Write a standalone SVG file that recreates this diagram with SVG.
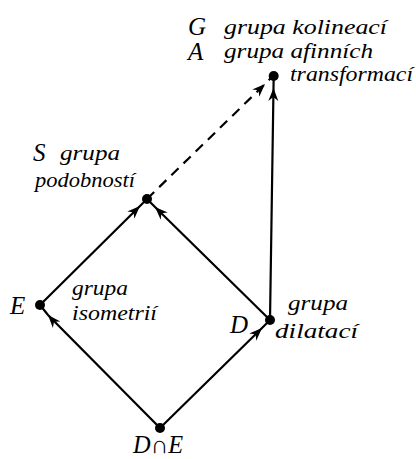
<svg xmlns="http://www.w3.org/2000/svg" width="416" height="459" viewBox="0 0 416 459">
<style>
.t{font-family:"Liberation Serif","DejaVu Serif",serif;font-style:italic;font-size:21px;fill:#000}
.c{font-family:"Liberation Serif","DejaVu Serif",serif;font-style:italic;font-size:25px;fill:#000}
.e{stroke:#000;stroke-width:2.2;fill:none;marker-mid:url(#ah)}
.d{stroke-dasharray:10 7}
.n{fill:#000}
</style>
<defs>
<marker id="ah" markerUnits="userSpaceOnUse" markerWidth="30" markerHeight="30" viewBox="-15 -15 30 30" refX="0" refY="0" orient="auto">
<path d="M0,0 L-13,-5 L-9,0 L-13,5 Z" fill="#000"/>
</marker>
</defs>
<rect width="416" height="459" fill="#fff"/>
<g id="connectors">
<path class="e" d="M160,428 L48,315 L40,305"/>
<path class="e" d="M160,428 L262,328 L270,320"/>
<path class="e" d="M40,305 L140,206 L147,199"/>
<path class="e" d="M270,320 L155,207 L147,199"/>
<path class="e" d="M270,320 L273.5,88 L273.7,76"/>
<path class="e d" d="M147,199 L265,84 L273,76"/>
</g>
<g id="node-A">
<circle class="n" cx="273.7" cy="76" r="5"/>
<text class="c" x="188" y="35">G</text>
<text class="t" x="224" y="34" textLength="163" lengthAdjust="spacingAndGlyphs">grupa kolineací</text>
<text class="c" x="188" y="60">A</text>
<text class="t" x="224" y="58" textLength="149" lengthAdjust="spacingAndGlyphs">grupa afinních</text>
<text class="t" x="290" y="81" textLength="123" lengthAdjust="spacingAndGlyphs">transformací</text>
</g>
<g id="node-S">
<circle class="n" cx="147" cy="199" r="5"/>
<text class="c" x="33" y="161">S</text>
<text class="t" x="60" y="160" textLength="60" lengthAdjust="spacingAndGlyphs">grupa</text>
<text class="t" x="35" y="187" textLength="100" lengthAdjust="spacingAndGlyphs">podobností</text>
</g>
<g id="node-E">
<circle class="n" cx="40" cy="305" r="5"/>
<text class="c" x="10" y="314">E</text>
<text class="t" x="72" y="295" textLength="56" lengthAdjust="spacingAndGlyphs">grupa</text>
<text class="t" x="72" y="320" textLength="85" lengthAdjust="spacingAndGlyphs">isometrií</text>
</g>
<g id="node-D">
<circle class="n" cx="270" cy="320" r="5"/>
<text class="c" x="230" y="333">D</text>
<text class="t" x="288" y="310" textLength="60" lengthAdjust="spacingAndGlyphs">grupa</text>
<text class="t" x="275" y="338" textLength="83" lengthAdjust="spacingAndGlyphs">dilatací</text>
</g>
<g id="node-DE">
<circle class="n" cx="160" cy="428" r="5"/>
<text class="c" x="133" y="453" textLength="50" lengthAdjust="spacingAndGlyphs">D∩E</text>
</g>
</svg>
